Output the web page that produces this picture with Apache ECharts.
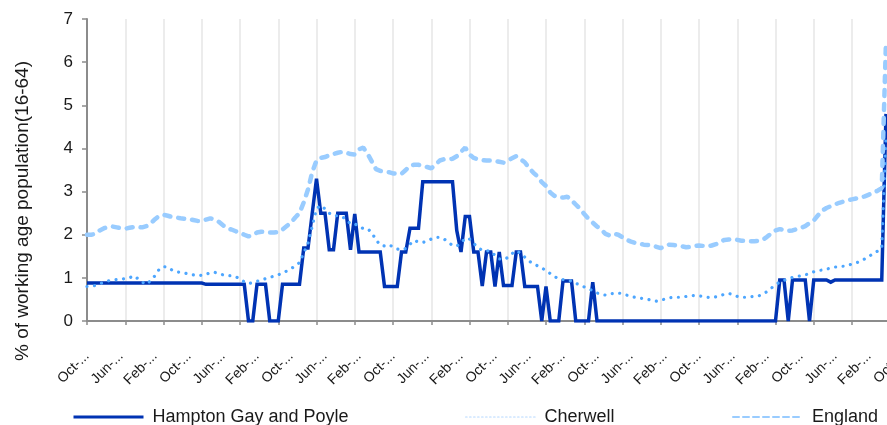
<!DOCTYPE html>
<html>
<head>
<meta charset="utf-8">
<script src="https://cdn.jsdelivr.net/npm/echarts@6/dist/echarts.min.js"></script>
<style>
  html, body { margin: 0; padding: 0; background: #fff; }
  #chart { width: 887px; height: 425px; }
</style>
</head>
<body>
<div id="chart"></div>
<script>
// Monthly categories starting Oct (labels shown truncated as in the reference)
var monthNames = ['Jan','Feb','Mar','Apr','May','Jun','Jul','Aug','Sep','Oct','Nov','Dec'];
var startYear = 2004, startMonth = 9, categoryCount = 193;
var categories = [];
for (var k = 0; k < categoryCount; k++) {
  var m = (startMonth + k) % 12;
  var y = startYear + Math.floor((startMonth + k) / 12);
  categories.push(monthNames[m] + '-' + String(y).slice(2));
}

var yTicks = [0, 1, 2, 3, 4, 5, 6, 7];

var hampton = [
  0.88,0.88,0.88,0.88,0.88,0.88,0.88,0.88,0.88,0.88,
  0.88,0.88,0.88,0.88,0.88,0.88,0.88,0.88,0.88,0.88,
  0.88,0.88,0.88,0.88,0.88,0.88,0.88,0.88,0.85,0.85,
  0.85,0.85,0.85,0.85,0.85,0.85,0.85,0.85,0,0,
  0.85,0.85,0.85,0,0,0,0.85,0.85,0.85,0.85,
  0.85,1.69,1.69,2.5,3.3,2.5,2.5,1.65,1.65,2.5,
  2.5,2.5,1.65,2.48,1.6,1.6,1.6,1.6,1.6,1.6,
  0.8,0.8,0.8,0.8,1.6,1.6,2.15,2.15,2.15,3.23,
  3.23,3.23,3.23,3.23,3.23,3.23,3.23,2.1,1.6,2.42,
  2.42,1.6,1.6,0.81,1.6,1.6,0.8,1.6,0.82,0.82,
  0.82,1.6,1.6,0.8,0.8,0.8,0.8,0,0.8,0,
  0,0,0.93,0.93,0.93,0,0,0,0,0.9,
  0,0,0,0,0,0,0,0,0,0,
  0,0,0,0,0,0,0,0,0,0,
  0,0,0,0,0,0,0,0,0,0,
  0,0,0,0,0,0,0,0,0,0,
  0,0,0,0.95,0.95,0,0.95,0.95,0.95,0.95,
  0,0.95,0.95,0.95,0.95,0.9,0.95,0.95,0.95,0.95,
  0.95,0.95,0.95,0.95,0.95,0.95,0.95,0.95,4.8
];

var cherwell = [
  0.8,0.81,0.82,0.86,0.9,0.93,0.95,0.96,0.97,0.98,
  1.0,1.05,0.98,0.9,0.85,0.94,1.05,1.2,1.26,1.25,
  1.18,1.14,1.13,1.11,1.09,1.07,1.05,1.06,1.08,1.12,
  1.13,1.1,1.07,1.05,1.05,1.03,0.97,0.91,0.87,0.89,
  0.92,0.95,0.98,1.01,1.04,1.07,1.11,1.16,1.21,1.28,
  1.35,1.58,1.8,2.2,2.6,2.68,2.6,2.5,2.44,2.44,
  2.42,2.36,2.25,2.25,2.2,2.14,2.14,2.05,1.88,1.76,
  1.74,1.77,1.72,1.67,1.65,1.68,1.78,1.87,1.83,1.82,
  1.85,1.9,1.94,1.94,1.9,1.83,1.75,1.74,1.8,1.92,
  1.9,1.8,1.7,1.64,1.63,1.62,1.52,1.44,1.42,1.47,
  1.56,1.63,1.57,1.48,1.39,1.33,1.28,1.23,1.17,1.1,
  1.03,0.98,0.96,0.96,0.92,0.87,0.84,0.79,0.75,0.7,
  0.65,0.62,0.6,0.63,0.64,0.65,0.63,0.6,0.57,0.55,
  0.53,0.52,0.5,0.48,0.46,0.48,0.51,0.54,0.55,0.55,
  0.55,0.57,0.58,0.59,0.58,0.57,0.55,0.54,0.56,0.59,
  0.62,0.64,0.61,0.57,0.55,0.55,0.56,0.57,0.58,0.62,
  0.68,0.76,0.84,0.9,0.94,0.98,1.01,1.03,1.05,1.07,
  1.1,1.14,1.17,1.18,1.2,1.23,1.25,1.26,1.27,1.29,
  1.32,1.35,1.38,1.44,1.5,1.56,1.62,1.7,4.3
];

var england = [
  2.0,2.0,2.02,2.1,2.15,2.18,2.19,2.17,2.15,2.14,
  2.16,2.18,2.18,2.17,2.2,2.26,2.36,2.44,2.46,2.44,
  2.41,2.4,2.38,2.37,2.36,2.34,2.32,2.32,2.35,2.38,
  2.35,2.3,2.22,2.15,2.12,2.08,2.04,2.0,1.96,2.0,
  2.05,2.07,2.07,2.05,2.05,2.06,2.12,2.2,2.28,2.4,
  2.5,2.75,3.05,3.45,3.72,3.78,3.8,3.84,3.87,3.9,
  3.92,3.9,3.87,3.86,3.98,4.02,3.88,3.7,3.52,3.48,
  3.46,3.45,3.42,3.41,3.41,3.5,3.6,3.62,3.62,3.6,
  3.57,3.54,3.62,3.72,3.75,3.75,3.76,3.82,3.92,4.02,
  3.86,3.78,3.75,3.73,3.72,3.72,3.71,3.69,3.67,3.72,
  3.77,3.82,3.75,3.68,3.55,3.44,3.35,3.22,3.13,2.98,
  2.9,2.86,2.86,2.88,2.8,2.7,2.6,2.48,2.37,2.28,
  2.19,2.12,2.02,1.98,2.02,2.0,1.94,1.88,1.84,1.81,
  1.79,1.77,1.76,1.75,1.72,1.69,1.73,1.77,1.76,1.75,
  1.73,1.71,1.72,1.74,1.75,1.74,1.73,1.75,1.78,1.84,
  1.88,1.89,1.9,1.88,1.86,1.86,1.85,1.85,1.86,1.88,
  1.95,2.03,2.1,2.13,2.11,2.09,2.1,2.13,2.16,2.2,
  2.27,2.33,2.45,2.56,2.62,2.66,2.7,2.74,2.77,2.8,
  2.82,2.84,2.86,2.89,2.93,2.97,3.02,3.08,6.5
];

var seriesNames = ['Hampton Gay and Poyle', 'Cherwell', 'England'];
var yAxisTitle = '% of working age population(16-64)';

var FONT = "'Liberation Sans', Arial, Helvetica, sans-serif";
var chart = echarts.init(document.getElementById('chart'), null, { renderer: 'canvas' });

function legendFor(name, left, lineStyle) {
  return {
    data: [name],
    left: left,
    top: 408,
    padding: 0,
    itemWidth: 70,
    itemHeight: 14,
    itemGap: 0,
    selectedMode: false,
    textStyle: { fontFamily: FONT, fontSize: 18, color: '#1a1a1a', padding: [0, 0, 0, 4] },
    itemStyle: { color: 'rgba(0,0,0,0)', borderColor: 'rgba(0,0,0,0)', borderWidth: 0, opacity: 0 },
    lineStyle: lineStyle
  };
}

chart.setOption({
  animation: false,
  backgroundColor: '#ffffff',
  grid: { left: 87, top: 19, width: 816, height: 302, containLabel: false, outerBoundsMode: 'none' },
  legend: [
    legendFor(seriesNames[0], 72, { width: 3, color: '#0033B3', type: 'solid', opacity: 1 }),
    legendFor(seriesNames[1], 465, { width: 1.2, color: '#b5d8ff', type: [1.5, 2.5], opacity: 1 }),
    legendFor(seriesNames[2], 732, { width: 2, color: '#99CCFF', type: [6, 4], opacity: 1 })
  ],
  graphic: [{
    type: 'text',
    x: 23,
    y: 211,
    rotation: Math.PI / 2,
    style: {
      text: yAxisTitle,
      font: '19px ' + FONT,
      fill: '#1a1a1a',
      align: 'center',
      verticalAlign: 'middle'
    }
  }],
  xAxis: {
    type: 'category',
    data: categories,
    boundaryGap: false,
    axisLine: { show: true, lineStyle: { color: '#8c8c8c', width: 2 } },
    axisTick: { show: true, interval: 8, length: 4, lineStyle: { color: '#8c8c8c', width: 1.5 } },
    splitLine: { show: true, interval: 8, lineStyle: { color: '#ececec', width: 2 } },
    axisLabel: {
      interval: 7,
      rotate: 45,
      margin: 33,
      fontFamily: FONT,
      fontSize: 14,
      color: '#1a1a1a',
      formatter: function (v) { return v.split('-')[0] + '-...'; }
    }
  },
  yAxis: {
    type: 'value',
    min: yTicks[0],
    max: yTicks[yTicks.length - 1],
    interval: 1,
    axisLine: { show: true, lineStyle: { color: '#8c8c8c', width: 2 } },
    axisTick: { show: true, length: 5, lineStyle: { color: '#8c8c8c', width: 1.5 } },
    splitLine: { show: false },
    axisLabel: { margin: 14, fontFamily: FONT, fontSize: 17, color: '#1a1a1a' }
  },
  series: [
    {
      name: seriesNames[0],
      type: 'line',
      data: hampton,
      symbol: 'none',
      z: 2,
      lineStyle: { color: '#0033B3', width: 3.5, join: 'miter', miterLimit: 2 },
      itemStyle: { color: '#0033B3' }
    },
    {
      name: seriesNames[1],
      type: 'line',
      data: cherwell,
      symbol: 'none',
      z: 3,
      lineStyle: { color: '#4DA6FF', width: 3.2, type: [0.01, 7.5], cap: 'round' },
      itemStyle: { color: '#4DA6FF' }
    },
    {
      name: seriesNames[2],
      type: 'line',
      data: england,
      symbol: 'none',
      z: 4,
      lineStyle: { color: '#99CCFF', width: 4.5, type: [6, 8], cap: 'round' },
      itemStyle: { color: '#99CCFF' }
    }
  ]
});
</script>
</body>
</html>
